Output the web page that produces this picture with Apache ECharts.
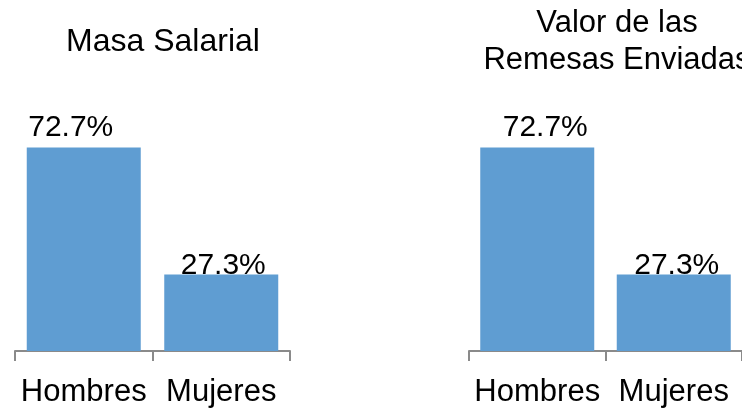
<!DOCTYPE html>
<html>
<head>
<meta charset="utf-8">
<script src="https://cdn.jsdelivr.net/npm/echarts@6/dist/echarts.min.js"></script>
<style>
  html, body { margin: 0; padding: 0; background: #fff; }
  #chart { width: 742px; height: 408px; }
</style>
</head>
<body>
<div id="chart"></div>
<script>
const categories = ['Hombres', 'Mujeres']
const masaSalarial = [72.7, 27.3]
const remesasEnviadas = [72.7, 27.3]
const titles = ['Masa Salarial', 'Valor de las\nRemesas Enviadas']

// label nudges, as in the source picture
const leftOffsets = [[-13, 0], [2, 0]]
const rightOffsets = [[8, 0], [3, 0]]
const labelDistance = [5, -6]

const font = 'Liberation Sans, Arial, sans-serif'
const barColor = '#5f9dd2'
const axisColor = '#8a8a8a'

function toItems(values, offsets) {
  return values.map((v, i) => ({
    value: v,
    label: { offset: offsets[i], distance: labelDistance[i] }
  }))
}

function xAxisFor(idx) {
  return {
    type: 'category',
    gridIndex: idx,
    data: categories,
    boundaryGap: true,
    axisLine: { lineStyle: { color: axisColor, width: 2 } },
    axisTick: { show: true, alignWithLabel: false, length: 10, lineStyle: { color: axisColor, width: 2 } },
    axisLabel: { color: '#000', fontSize: 31, fontFamily: font, margin: 26, interval: 0 }
  }
}

function yAxisFor(idx) {
  return { type: 'value', gridIndex: idx, min: 0, max: 80, show: false }
}

function seriesFor(idx, values, offsets) {
  return {
    type: 'bar',
    xAxisIndex: idx,
    yAxisIndex: idx,
    barWidth: 114,
    itemStyle: { color: barColor },
    label: {
      show: true,
      position: 'top',
      color: '#000',
      fontSize: 30,
      fontFamily: font,
      formatter: p => p.value.toFixed(1) + '%'
    },
    data: toItems(values, offsets)
  }
}

const chart = echarts.init(document.getElementById('chart'))
chart.setOption({
  animation: false,
  title: [
    {
      text: titles[0], left: 158, top: 21, textAlign: 'center',
      textStyle: { fontSize: 32, fontWeight: 'normal', color: '#000', fontFamily: font }
    },
    {
      text: titles[1], left: 612, top: 0, textAlign: 'center',
      textStyle: { fontSize: 31, fontWeight: 'normal', color: '#000', fontFamily: font, lineHeight: 37 }
    }
  ],
  grid: [
    { left: 15, width: 275, top: 127, bottom: 54 },
    { left: 469, width: 275, top: 127, bottom: 54 }
  ],
  xAxis: [xAxisFor(0), xAxisFor(1)],
  yAxis: [yAxisFor(0), yAxisFor(1)],
  series: [
    seriesFor(0, masaSalarial, leftOffsets),
    seriesFor(1, remesasEnviadas, rightOffsets)
  ]
})
</script>
</body>
</html>
